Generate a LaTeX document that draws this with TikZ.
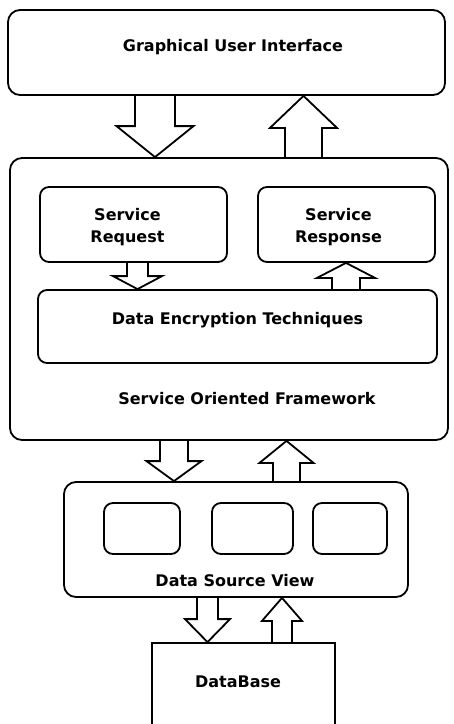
\documentclass[tikz,border=0pt]{standalone}
\usepackage{fontspec}
\setmainfont{DejaVu Sans}
\usetikzlibrary{calc}

% hollow block arrows: x, shaft half width, head half width, head length, from node, to node
\newcommand{\dnblk}[6]{%
  \draw[blk] let \p1=(#5.south), \p2=(#6.north) in
    (#1pt-#2pt,\y1) -- (#1pt-#2pt,\y2+#4pt) -- (#1pt-#3pt,\y2+#4pt) -- (#1pt,\y2)
    -- (#1pt+#3pt,\y2+#4pt) -- (#1pt+#2pt,\y2+#4pt) -- (#1pt+#2pt,\y1);}
\newcommand{\upblk}[6]{%
  \draw[blk] let \p1=(#5.north), \p2=(#6.south) in
    (#1pt-#2pt,\y1) -- (#1pt-#2pt,\y2-#4pt) -- (#1pt-#3pt,\y2-#4pt) -- (#1pt,\y2)
    -- (#1pt+#3pt,\y2-#4pt) -- (#1pt+#2pt,\y2-#4pt) -- (#1pt+#2pt,\y1);}

\begin{document}
\begin{tikzpicture}[x=1pt, y=-1pt,
    txt/.style={font=\fontsize{16}{22}\selectfont\bfseries, align=center},
    box/.style={rectangle, draw, line width=1.8pt, rounded corners=12pt, txt},
    sub/.style={box, rounded corners=9pt},
    blk/.style={line width=1.8pt, line join=miter}
  ]
    \useasboundingbox (0,0) rectangle (454,724);
    \node[box, minimum width=437pt, minimum height=85pt, label={[txt, xshift=6.5pt, yshift=5.5pt]center:Graphical User Interface}] (gui) at (226.5,52.5) {};
    \node[box, minimum width=438pt, minimum height=282pt] (sof) at (229,299) {};
    \node[txt] (sofname) at (247,399) {Service Oriented Framework};
    \node[sub, minimum width=187pt, minimum height=75pt, label={[txt, xshift=-6pt, yshift=-3pt]center:Service\\Request}] (req) at (133.5,224.5) {};
    \node[sub, minimum width=177pt, minimum height=75pt, label={[txt, xshift=-8pt, yshift=-3pt]center:Service\\Response}] (resp) at (346.5,224.5) {};
    \node[sub, minimum width=399pt, minimum height=73pt, label={[txt, yshift=6pt]center:Data Encryption Techniques}] (enc) at (237.5,326.5) {};
    \node[box, minimum width=344pt, minimum height=115pt] (dsv) at (236,539.5) {};
    \node[txt] (dsvname) at (235,581) {Data Source View};
    \node[sub, minimum width=76pt, minimum height=51pt] (v1) at (142,528.5) {};
    \node[sub, minimum width=81pt, minimum height=51pt] (v2) at (252.5,528.5) {};
    \node[sub, minimum width=74pt, minimum height=51pt] (v3) at (350,528.5) {};
    \node[box, rounded corners=0pt, minimum width=183pt, minimum height=97pt] (db) at (243.5,691.5) {};
    \node[txt] (dbname) at (238,682) {DataBase};
    \dnblk{155}{20}{38.5}{31}{gui}{sof}
    \upblk{303.5}{18.5}{33.5}{32}{sof}{gui}
    \dnblk{137.5}{10.5}{24.5}{13}{req}{enc}
    \upblk{346}{14}{29}{15}{enc}{resp}
    \dnblk{174}{14}{27.5}{20}{sof}{dsv}
    \upblk{286.5}{13.5}{27}{22}{dsv}{sof}
    \dnblk{207.5}{10.5}{22.5}{23}{dsv}{db}
    \upblk{282}{10}{20}{23}{db}{dsv}
  \end{tikzpicture}
\end{document}
